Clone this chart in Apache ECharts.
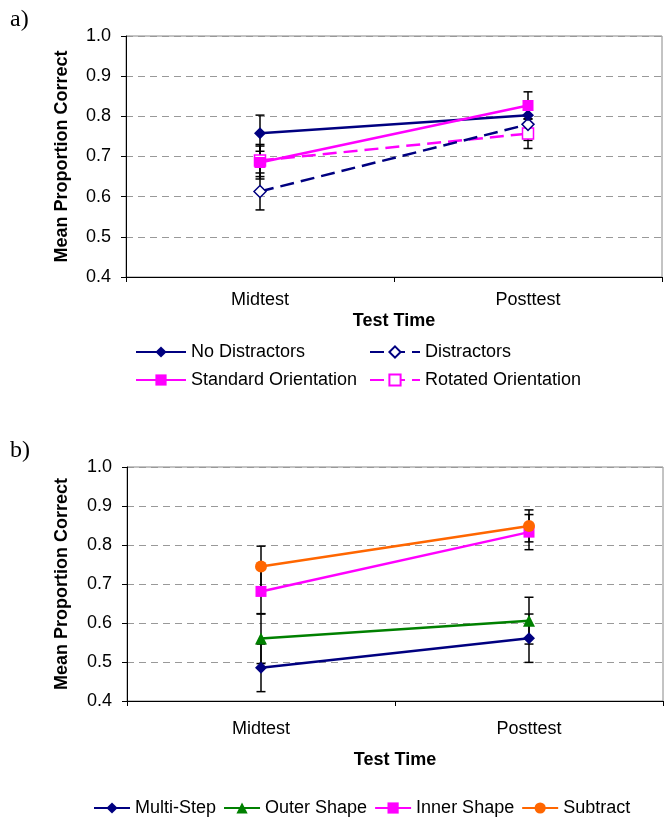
<!DOCTYPE html>
<html>
<head>
<meta charset="utf-8">
<script src="https://cdn.jsdelivr.net/npm/echarts@6/dist/echarts.min.js"></script>
<style>
  html, body { margin: 0; padding: 0; background: #fff; }
  #chart { width: 665px; height: 818px; }
</style>
</head>
<body>
<div id="chart"></div>
<script>
// categories and tick labels
var categories = ['Midtest', 'Posttest'];
var yTicks = [0.4, 0.5, 0.6, 0.7, 0.8, 0.9, 1.0];

// panel a) means and error bar half-widths
var noDistractors = [0.758, 0.803];
var noDistractorsErr = [0.045, 0.035];
var distractors = [0.613, 0.780];
var distractorsErr = [0.046, 0.040];
var standardOrient = [0.685, 0.827];
var standardOrientErr = [0.041, 0.034];
var rotatedOrient = [0.690, 0.757];
var rotatedOrientErr = [0.040, 0.037];

// panel b) means and error bar half-widths
var multiStep = [0.485, 0.561];
var multiStepErr = [0.061, 0.062];
var outerShape = [0.560, 0.606];
var outerShapeErr = [0.064, 0.060];
var innerShape = [0.681, 0.833];
var innerShapeErr = [0.058, 0.045];
var subtract = [0.745, 0.849];
var subtractErr = [0.052, 0.041];

var NAVY = '#000080', MAGENTA = '#ff00ff', GREEN = '#008000', ORANGE = '#ff6600';
var FONT = '"Liberation Sans", Arial, sans-serif';
var SERIF = '"Liberation Serif", "Times New Roman", serif';

var chart = echarts.init(document.getElementById('chart'));

function errData(vals, errs) {
    return vals.map(function (v, i) { return [i, v - errs[i], v + errs[i]]; });
}

function errorBars(vals, errs, idx) {
    return {
        type: 'custom',
        xAxisIndex: idx,
        yAxisIndex: idx,
        z: 1,
        silent: true,
        data: errData(vals, errs),
        renderItem: function (params, api) {
            var x = api.value(0);
            var top = api.coord([x, api.value(2)]);
            var bot = api.coord([x, api.value(1)]);
            var w = 4.5;
            var style = { stroke: '#000', lineWidth: 1.5 };
            return {
                type: 'group',
                children: [
                    { type: 'line', shape: { x1: top[0], y1: top[1], x2: bot[0], y2: bot[1] }, style: style },
                    { type: 'line', shape: { x1: top[0] - w, y1: top[1], x2: top[0] + w, y2: top[1] }, style: style },
                    { type: 'line', shape: { x1: bot[0] - w, y1: bot[1], x2: bot[0] + w, y2: bot[1] }, style: style }
                ]
            };
        }
    };
}

function lineSeries(name, data, idx, color, symbol, size, dashed, hollow, z) {
    return {
        name: name,
        type: 'line',
        xAxisIndex: idx,
        yAxisIndex: idx,
        data: data,
        z: z,
        symbol: symbol,
        symbolSize: size,
        showAllSymbol: true,
        lineStyle: { color: color, width: 2.5, type: dashed ? [14, 7] : 'solid' },
        itemStyle: { color: hollow ? '#fff' : color, borderColor: color, borderWidth: hollow ? 1.5 : 0 },
        emphasis: { disabled: true }
    };
}

function yAxis(idx, nameGap) {
    return {
        gridIndex: idx,
        type: 'value',
        min: yTicks[0],
        max: yTicks[yTicks.length - 1],
        interval: 0.1,
        name: 'Mean Proportion Correct',
        nameLocation: 'middle',
        nameGap: nameGap,
        nameTextStyle: { fontFamily: FONT, fontSize: 18, fontWeight: 'bold', color: '#000' },
        axisLine: { show: true, lineStyle: { color: '#000', width: 1 } },
        axisTick: { show: true, length: 5, lineStyle: { color: '#000' } },
        axisLabel: {
            fontFamily: FONT, fontSize: 18, color: '#000', margin: 15,
            formatter: function (v) { return v.toFixed(1); }
        },
        splitLine: { show: true, lineStyle: { color: '#999', width: 1, type: [7, 5] } }
    };
}

function xAxis(idx, margin, nameGap) {
    return {
        gridIndex: idx,
        type: 'category',
        data: categories,
        boundaryGap: true,
        name: 'Test Time',
        nameLocation: 'middle',
        nameGap: nameGap,
        nameTextStyle: { fontFamily: FONT, fontSize: 18, fontWeight: 'bold', color: '#000' },
        axisLine: { show: true, lineStyle: { color: '#000', width: 1 } },
        axisTick: { show: true, length: 5, lineStyle: { color: '#000' } },
        axisLabel: { fontFamily: FONT, fontSize: 18, color: '#000', margin: margin },
        splitLine: { show: false }
    };
}

var legendText = { fontFamily: FONT, fontSize: 18, color: '#000', lineHeight: 20 };

var option = {
    animation: false,
    backgroundColor: '#fff',
    title: [
        { text: 'a)', left: 10, top: 8, padding: 0, textStyle: { fontFamily: SERIF, fontSize: 24, fontWeight: 'normal', color: '#000' } },
        { text: 'b)', left: 10, top: 439, padding: 0, textStyle: { fontFamily: SERIF, fontSize: 24, fontWeight: 'normal', color: '#000' } }
    ],
    grid: [
        { left: 126, top: 36, width: 536, height: 241, show: true, borderColor: '#888', borderWidth: 1, backgroundColor: 'transparent' },
        { left: 127, top: 467, width: 536, height: 234, show: true, borderColor: '#888', borderWidth: 1, backgroundColor: 'transparent' }
    ],
    xAxis: [xAxis(0, 14, 35), xAxis(1, 19, 50)],
    yAxis: [yAxis(0, 55), yAxis(1, 56)],
    legend: [
        {
            orient: 'vertical', left: 135, top: 342, padding: 0, itemGap: 8, itemWidth: 50, itemHeight: 14,
            textStyle: legendText, selectedMode: false,
            data: ['No Distractors', 'Standard Orientation']
        },
        {
            orient: 'vertical', left: 369, top: 342, padding: 0, itemGap: 8, itemWidth: 50, itemHeight: 14,
            textStyle: legendText, selectedMode: false,
            data: ['Distractors', 'Rotated Orientation']
        },
        {
            orient: 'horizontal', left: 93, top: 798, padding: 0, itemGap: 7, itemWidth: 36, itemHeight: 14,
            textStyle: legendText, selectedMode: false,
            data: ['Multi-Step', 'Outer Shape', 'Inner Shape', 'Subtract']
        }
    ],
    series: [
        errorBars(noDistractors, noDistractorsErr, 0),
        errorBars(distractors, distractorsErr, 0),
        errorBars(standardOrient, standardOrientErr, 0),
        errorBars(rotatedOrient, rotatedOrientErr, 0),
        lineSeries('Rotated Orientation', rotatedOrient, 0, MAGENTA, 'rect', 11, true, true, 2),
        lineSeries('Distractors', distractors, 0, NAVY, 'diamond', 12, true, true, 3),
        lineSeries('No Distractors', noDistractors, 0, NAVY, 'diamond', 12, false, false, 4),
        lineSeries('Standard Orientation', standardOrient, 0, MAGENTA, 'rect', 11, false, false, 5),

        errorBars(multiStep, multiStepErr, 1),
        errorBars(outerShape, outerShapeErr, 1),
        errorBars(innerShape, innerShapeErr, 1),
        errorBars(subtract, subtractErr, 1),
        lineSeries('Multi-Step', multiStep, 1, NAVY, 'diamond', 12, false, false, 2),
        lineSeries('Outer Shape', outerShape, 1, GREEN, 'triangle', 12, false, false, 3),
        lineSeries('Inner Shape', innerShape, 1, MAGENTA, 'rect', 11, false, false, 4),
        lineSeries('Subtract', subtract, 1, ORANGE, 'circle', 12, false, false, 5)
    ]
};

chart.setOption(option);
</script>
</body>
</html>
